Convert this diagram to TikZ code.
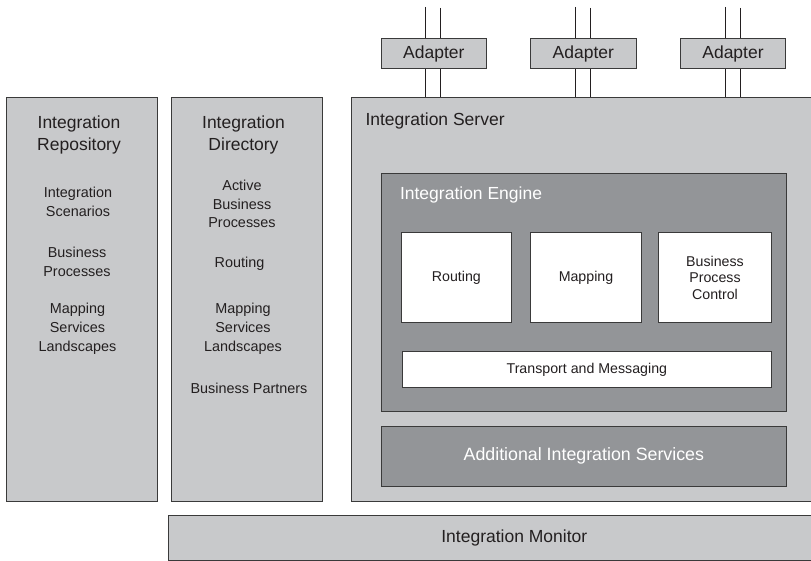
\documentclass[tikz,border=0pt]{standalone}
\usepackage{fontspec}
\setmainfont{Liberation Sans}
\definecolor{lgray}{HTML}{C8C9CB}
\definecolor{dgray}{HTML}{939598}
\definecolor{edge}{HTML}{3A3A3A}
\definecolor{ink}{HTML}{231F20}
\begin{document}
\begin{tikzpicture}[x=1pt,y=-1pt,
  box/.style={draw=edge, line width=1pt, inner sep=0pt, anchor=north west, text=ink},
  panel/.style={box, fill=lgray},
  engbox/.style={box, fill=dgray},
  whitebox/.style={box, fill=white, font=\fontsize{14.2}{16.5}\selectfont, align=center},
  big/.style={font=\fontsize{17.5}{21.5}\selectfont, align=center, text=ink},
  small/.style={font=\fontsize{14.4}{18.8}\selectfont, align=center, text=ink},
  wire/.style={draw=ink, line width=0.9pt}]
\useasboundingbox (0,0) rectangle (811,561);
\fill[white] (0,0) rectangle (811,561);

% left panels
\node[panel, minimum width=150.5pt, minimum height=403pt] (repo) at (6,97.5) {};
\node[panel, minimum width=150.5pt, minimum height=403pt] (dir) at (171,97.5) {};

\node[big] (repoT) at (79,135) {Integration\\Repository};
\node[small] (r1) at (78,201.5) {Integration\\Scenarios};
\node[small] (r2) at (77,262) {Business\\Processes};
\node[small] (r3) at (77.5,328.5) {Mapping\\Services\\Landscapes};

\node[big] (dirT) at (243.5,135) {Integration\\Directory};
\node[small] (d1) at (242,204) {Active\\Business\\Processes};
\node[small] (d2) at (239.5,263.5) {Routing};
\node[small] (d3) at (243,328.5) {Mapping\\Services\\Landscapes};
\node[small] (d4) at (249,388.5) {Business Partners};

% server
\node[panel, minimum width=470pt, minimum height=403pt] (srv) at (351,97.5) {};
\node[big, anchor=west] (srvT) at (362,121) {Integration Server};

% adapter wires
\foreach \i/\xa in {1/425.3, 2/575.3, 3/725.3} {
  \coordinate (wa\i) at (\xa,7);
  \coordinate (wb\i) at (\xa+14.7,8);
  \draw[wire] (wa\i) -- (wa\i |- srv.north);
  \draw[wire] (wb\i) -- (wb\i |- srv.north);
}
% adapters
\node[panel, minimum width=104.7pt, minimum height=30pt, font=\fontsize{17.5}{20}\selectfont] (ad1) at (381,38) {Adapter};
\node[panel, minimum width=105.7pt, minimum height=30pt, font=\fontsize{17.5}{20}\selectfont] (ad2) at (530,38) {Adapter};
\node[panel, minimum width=105pt, minimum height=30pt, font=\fontsize{17.5}{20}\selectfont] (ad3) at (680,38) {Adapter};

% engine
\node[engbox, minimum width=404.7pt, minimum height=238.3pt] (eng) at (381,172.7) {};
\node[big, anchor=west, text=white] (engT) at (396.5,195) {Integration Engine};
\node[whitebox, minimum width=110.3pt, minimum height=89.4pt] (rout) at (400.7,232.3) {Routing};
\node[whitebox, minimum width=111pt, minimum height=89.4pt] (map) at (530,232.3) {Mapping};
\node[whitebox, minimum width=112.4pt, minimum height=89.4pt] (bpc) at (658.3,232.3) {Business\\Process\\Control};
\node[whitebox, minimum width=369.3pt, minimum height=35.7pt] (trans) at (401.7,351) {Transport and Messaging};

% additional services
\node[engbox, minimum width=404.7pt, minimum height=60pt, text=white, font=\fontsize{17.8}{21}\selectfont] (add) at (381,425.7) {Additional Integration Services};

% monitor
\node[panel, minimum width=691pt, minimum height=45pt, font=\fontsize{17.5}{21}\selectfont] (mon) at (168.3,515) {Integration Monitor};
\end{tikzpicture}
\end{document}
